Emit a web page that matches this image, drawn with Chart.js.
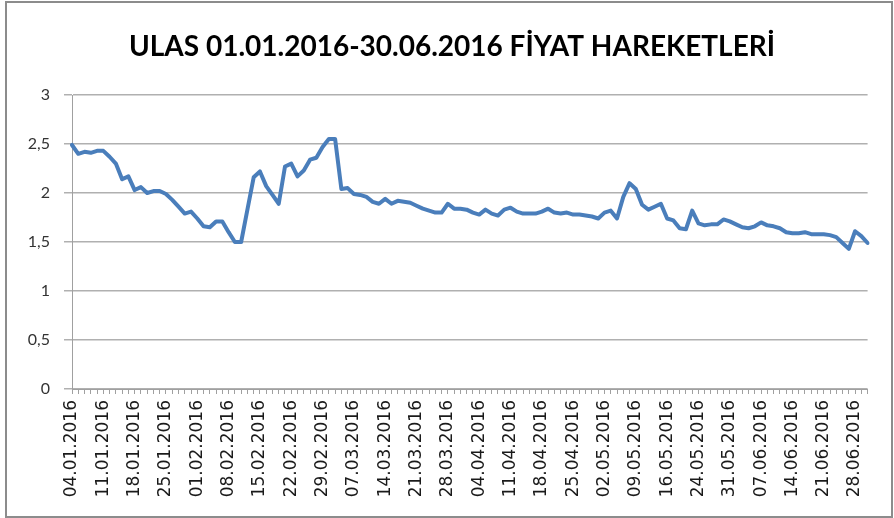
<!DOCTYPE html>
<html>
<head>
<meta charset="utf-8">
<script src="https://cdn.jsdelivr.net/npm/chart.js@4.4.1/dist/chart.umd.min.js"></script>
<style>
    html, body { margin: 0; padding: 0; background: #fff; }
    #wrap { position: relative; width: 894px; height: 518px; }
    #frame {
        position: absolute; left: 5px; top: 1px; width: 884px; height: 513px;
        border: 2px solid #8c8c8c; pointer-events: none;
    }
    canvas { position: absolute; left: 0; top: 0; }
</style>
</head>
<body>
<div id="wrap">
    <canvas id="priceChart" width="894" height="518"></canvas>
    <div id="frame"></div>
</div>
<script>
// Closing prices, one array per month (trading days only)
const pricesJan = [2.49, 2.40, 2.42, 2.41, 2.43, 2.43, 2.37, 2.30, 2.14, 2.17,
                   2.03, 2.06, 2.00, 2.02, 2.02, 1.99, 1.93, 1.86, 1.79, 1.81];
const pricesFeb = [1.74, 1.66, 1.65, 1.71, 1.71, 1.60, 1.50, 1.50, 1.83, 2.16, 2.22,
                   2.07, 1.98, 1.89, 2.27, 2.30, 2.17, 2.23, 2.34, 2.36, 2.47];
const pricesMar = [2.55, 2.55, 2.04, 2.05, 1.99, 1.98, 1.96, 1.91, 1.89, 1.94, 1.89, 1.92,
                   1.91, 1.90, 1.87, 1.84, 1.82, 1.80, 1.80, 1.89, 1.84, 1.84, 1.83];
const pricesApr = [1.80, 1.78, 1.83, 1.79, 1.77, 1.83, 1.85, 1.81, 1.79, 1.79, 1.79,
                   1.81, 1.84, 1.80, 1.79, 1.80, 1.78, 1.78, 1.77, 1.76, 1.74];
const pricesMay = [1.80, 1.82, 1.74, 1.96, 2.10, 2.04, 1.88, 1.83, 1.86, 1.89, 1.74,
                   1.72, 1.64, 1.63, 1.82, 1.69, 1.67, 1.68, 1.68, 1.73, 1.71];
const pricesJun = [1.68, 1.65, 1.64, 1.66, 1.70, 1.67, 1.66, 1.64, 1.60, 1.59, 1.59,
                   1.60, 1.58, 1.58, 1.58, 1.57, 1.55, 1.49, 1.43, 1.61, 1.56, 1.49];

const prices = [].concat(pricesJan, pricesFeb, pricesMar, pricesApr, pricesMay, pricesJun);

// Y axis ticks
const yTicks = [0, 0.5, 1, 1.5, 2, 2.5, 3];

// Borsa holidays inside the range (weekends are skipped too)
const holidays = ['19.05.2016'];

const chartTitle = 'ULAS 01.01.2016-30.06.2016 FİYAT HAREKETLERİ';

// Build the trading-day categories 04.01.2016 .. 30.06.2016
function pad(n) { return n < 10 ? '0' + n : '' + n; }
const tradingDays = [];
for (let d = new Date(2016, 0, 4); d <= new Date(2016, 5, 30); d.setDate(d.getDate() + 1)) {
    const day = d.getDay();
    if (day === 0 || day === 6) continue;
    const txt = pad(d.getDate()) + '.' + pad(d.getMonth() + 1) + '.' + d.getFullYear();
    if (holidays.includes(txt)) continue;
    tradingDays.push(txt);
}

// Title + white background
const titlePlugin = {
    id: 'excelTitle',
    beforeDraw(chart) {
        const ctx = chart.ctx;
        ctx.save();
        ctx.fillStyle = '#fff';
        ctx.fillRect(0, 0, chart.width, chart.height);
        ctx.fillStyle = '#000';
        ctx.font = 'bold 28px Lato';
        ctx.textAlign = 'center';
        ctx.textBaseline = 'alphabetic';
        ctx.fillText(chartTitle, 452, 56);
        ctx.restore();
    }
};

new Chart(document.getElementById('priceChart'), {
    type: 'line',
    data: {
        labels: tradingDays,
        datasets: [{
            data: prices,
            borderColor: '#4a7ebb',
            borderWidth: 4,
            pointRadius: 0,
            tension: 0,
            fill: false,
            borderJoinStyle: 'round',
            borderCapStyle: 'round'
        }]
    },
    options: {
        responsive: false,
        animation: false,
        devicePixelRatio: 1,
        layout: {
            padding: { top: 95, right: 20, bottom: 0, left: 0 }
        },
        plugins: {
            legend: { display: false },
            tooltip: { enabled: false },
            title: { display: false }
        },
        scales: {
            x: {
                grid: {
                    drawOnChartArea: false,
                    drawTicks: true,
                    tickLength: 5,
                    color: '#a0a0a0'
                },
                border: { color: '#a0a0a0', width: 1 },
                ticks: {
                    autoSkip: false,
                    minRotation: 90,
                    maxRotation: 90,
                    padding: 6,
                    color: '#1a1a1a',
                    font: { family: '"DejaVu Sans", sans-serif', size: 17 },
                    callback: function(value, index) {
                        return index % 5 === 0 ? tradingDays[index] : '';
                    }
                },
                afterFit: function(scale) { scale.height = 129; }
            },
            y: {
                min: yTicks[0],
                max: yTicks[yTicks.length - 1],
                afterBuildTicks: function(scale) {
                    scale.ticks = yTicks.map(v => ({ value: v }));
                },
                grid: {
                    color: '#b0b0b0',
                    lineWidth: 1.5,
                    tickLength: 8
                },
                border: { color: '#a0a0a0', width: 1 },
                ticks: {
                    padding: 14,
                    color: '#333333',
                    font: { family: 'Lato', size: 16 },
                    callback: function(value) {
                        return String(value).replace('.', ',');
                    }
                },
                afterFit: function(scale) { scale.width = 72; }
            }
        }
    },
    plugins: [titlePlugin]
});
</script>
</body>
</html>
